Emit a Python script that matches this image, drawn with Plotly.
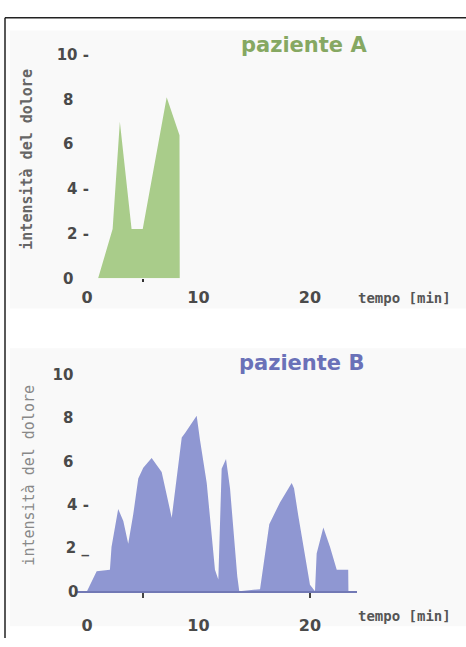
import plotly.graph_objects as go

# ---- data ----
time_a = [1.0, 2.3, 2.95, 4.0, 5.0, 7.15, 8.3, 8.32]
pain_a = [0.0, 2.2, 7.0, 2.2, 2.2, 8.1, 6.4, 0.0]

time_b = [0, 0.87, 2.06, 2.2, 2.8, 3.26, 3.7, 4.15, 4.6, 5.05, 5.8, 6.7, 7.6, 8.5, 8.8,
          9.84, 10.13, 10.74, 11.48, 11.78, 12.08, 12.47, 12.83, 13.48, 13.66, 15.52,
          16.35, 17.31, 18.36, 18.57, 18.95, 20.0, 20.45, 20.6, 21.2, 21.8, 22.4, 23.43, 23.45]
pain_b = [0, 0.93, 1.0, 2.05, 3.8, 3.25, 2.2, 3.55, 5.2, 5.7, 6.15, 5.5, 3.4, 7.1, 7.3,
          8.1, 7.0, 5.0, 1.0, 0.55, 5.65, 6.1, 4.75, 0.7, 0, 0.1,
          3.1, 4.1, 5.0, 4.75, 3.5, 0.3, 0, 1.75, 2.95, 2.05, 1.0, 1.0, 0]

x_ticks = [0, 10, 20]
x_ticktext = ["0", "10", "20"]
y_ticks = [0, 2, 4, 6, 8, 10]
y_text_a = ["0\u00a0\u00a0\u00a0", "2 -", "4 -", "6\u00a0\u00a0\u00a0", "8\u00a0\u00a0\u00a0", "10 -"]
y_text_b = ["0\u00a0\u00a0", "2 _", "4 -", "6\u00a0\u00a0\u00a0", "8\u00a0\u00a0\u00a0", "10\u00a0\u00a0\u00a0"]

W, H = 466, 647
def px(v):
    return v / W
def py(v):
    return 1 - v / H

fig = go.Figure()
fig.add_trace(go.Scatter(x=time_a, y=pain_a, mode="lines", fill="tozeroy",
                         line=dict(color="#a9cc8a", width=0), fillcolor="#a9cc8a",
                         xaxis="x", yaxis="y", showlegend=False))
fig.add_trace(go.Scatter(x=time_b, y=pain_b, mode="lines", fill="tozeroy",
                         line=dict(color="#8f97d2", width=0), fillcolor="#8f97d2",
                         xaxis="x2", yaxis="y2", showlegend=False))

xdom = [px(74.7), px(356.8)]
xr = [-1.1, 24.2]
tickfont = dict(family="DejaVu Sans", size=16, color="#4a4a4a", weight="bold")
ytickfont = dict(family="DejaVu Sans", size=15, color="#4a4a4a", weight="bold")

fig.update_layout(
    width=W, height=H, margin=dict(l=0, r=0, t=0, b=0),
    paper_bgcolor="white", plot_bgcolor="rgba(0,0,0,0)",
    xaxis=dict(domain=xdom, range=xr, anchor="y", tickvals=x_ticks, ticktext=x_ticktext,
               ticks="", showgrid=False, zeroline=False, showline=False,
               tickfont=tickfont, ticklabelstandoff=8,
               minor=dict(tickvals=[5, 24.3], ticks="outside", ticklen=3, tickwidth=2,
                          tickcolor="#333", showgrid=False)),
    yaxis=dict(domain=[py(277), py(47)], range=[0, 10], anchor="free", position=px(89),
               tickvals=y_ticks, ticktext=y_text_a, ticks="", showgrid=False,
               zeroline=False, showline=False, tickfont=ytickfont, ticklabelstandoff=0),
    xaxis2=dict(domain=xdom, range=xr, anchor="y2", tickvals=x_ticks, ticktext=x_ticktext,
                ticks="", showgrid=False, zeroline=False, showline=True,
                linecolor="#7279b5", linewidth=2,
                tickfont=tickfont, ticklabelstandoff=18,
                minor=dict(tickvals=[5, 20], ticks="outside", ticklen=5, tickwidth=2,
                           tickcolor="#444", showgrid=False)),
    yaxis2=dict(domain=[py(599), py(376)], range=[0, 10], anchor="free", position=px(89),
                tickvals=y_ticks, ticktext=y_text_b, ticks="", showgrid=False,
                zeroline=False, showline=False, tickfont=ytickfont, ticklabelstandoff=0),
    shapes=[
        dict(type="rect", xref="paper", yref="paper", x0=px(10), x1=1.0, y0=py(308), y1=py(22),
             fillcolor="#f9f9f9", line=dict(width=0), layer="below"),
        dict(type="rect", xref="paper", yref="paper", x0=px(10), x1=1.0, y0=py(635), y1=py(349),
             fillcolor="#f9f9f9", line=dict(width=0), layer="below"),
        dict(type="line", xref="paper", yref="paper", x0=px(5), x1=px(5), y0=0, y1=py(9),
             line=dict(color="#222", width=1.5)),
        dict(type="line", xref="paper", yref="paper", x0=px(5), x1=1.0, y0=py(9), y1=py(9),
             line=dict(color="#222", width=1.5)),
    ],
    annotations=[
        dict(text="paziente A", xref="paper", yref="paper", x=px(304), y=py(37),
             xanchor="center", yanchor="middle", showarrow=False,
             font=dict(family="DejaVu Sans", size=21, color="#86a862", weight="bold")),
        dict(text="paziente B", xref="paper", yref="paper", x=px(301), y=py(364),
             xanchor="center", yanchor="middle", showarrow=False,
             font=dict(family="DejaVu Sans", size=21, color="#6a71b8", weight="bold")),
        dict(text="intensità del dolore", xref="paper", yref="paper", x=px(27), y=py(155),
             xanchor="center", yanchor="middle", textangle=-90, showarrow=False,
             font=dict(family="DejaVu Sans Mono", size=15, color="#666", weight="bold")),
        dict(text="intensità del dolore", xref="paper", yref="paper", x=px(29), y=py(480),
             xanchor="center", yanchor="middle", textangle=-90, showarrow=False,
             font=dict(family="DejaVu Sans Mono", size=15, color="#888")),
        dict(text="tempo [min]", xref="paper", yref="paper", x=px(453), y=py(297),
             xanchor="right", yanchor="middle", showarrow=False,
             font=dict(family="DejaVu Sans Mono", size=14, color="#555", weight="bold")),
        dict(text="tempo [min]", xref="paper", yref="paper", x=px(453), y=py(624),
             xanchor="right", yanchor="middle", showarrow=False,
             font=dict(family="DejaVu Sans Mono", size=14, color="#555", weight="bold")),
    ],
)

fig.write_html("out.html", config={"displayModeBar": False},
               post_script="document.body.style.margin='0';document.body.style.overflow='hidden';")
